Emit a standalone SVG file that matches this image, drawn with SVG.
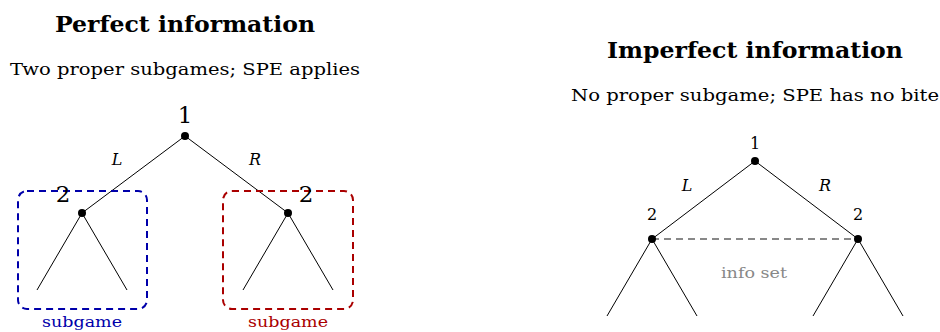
<svg xmlns="http://www.w3.org/2000/svg" width="940" height="332" viewBox="0 0 940 332">
<style>
text{font-family:"DejaVu Serif","Liberation Serif",serif;fill:#000}
.title{font-size:23px;font-weight:bold;text-anchor:middle}
.sub{font-size:16.5px;text-anchor:middle}
.pl{font-size:23px;text-anchor:middle}
.pls{font-size:16px;text-anchor:middle}
.act{font-size:16px;font-style:italic;text-anchor:middle}
.edge{stroke:#000;stroke-width:1;fill:none}
.dot{fill:#000}
.box{fill:none;stroke-width:2;stroke-dasharray:7 5}
</style>
<rect width="940" height="332" fill="#fff"/>
<text class="title" x="185" y="32" textLength="260" lengthAdjust="spacingAndGlyphs">Perfect information</text>
<text class="sub" x="185" y="75" textLength="350" lengthAdjust="spacingAndGlyphs">Two proper subgames; SPE applies</text>
<text class="title" x="755" y="58" textLength="296" lengthAdjust="spacingAndGlyphs">Imperfect information</text>
<text class="sub" x="755" y="101" textLength="368" lengthAdjust="spacingAndGlyphs">No proper subgame; SPE has no bite</text>
<g id="connectors">
<line class="edge" x1="185" y1="136" x2="82" y2="213"/>
<line class="edge" x1="185" y1="136" x2="288" y2="213"/>
<line class="edge" x1="82" y1="213" x2="37" y2="290"/>
<line class="edge" x1="82" y1="213" x2="127" y2="290"/>
<line class="edge" x1="288" y1="213" x2="243" y2="290"/>
<line class="edge" x1="288" y1="213" x2="333" y2="290"/>
<line class="edge" x1="755" y1="161" x2="652" y2="239"/>
<line class="edge" x1="755" y1="161" x2="858" y2="239"/>
<line class="edge" x1="652" y1="239" x2="607" y2="316"/>
<line class="edge" x1="652" y1="239" x2="697" y2="316"/>
<line class="edge" x1="858" y1="239" x2="813" y2="316"/>
<line class="edge" x1="858" y1="239" x2="903" y2="316"/>
<line x1="652" y1="239" x2="858" y2="239" stroke="#888" stroke-width="2" stroke-dasharray="7 5"/>
</g>
<g id="labels">
<text class="act" x="117" y="165">L</text>
<text class="act" x="255" y="165">R</text>
<text class="act" x="687" y="191">L</text>
<text class="act" x="825" y="191">R</text>
<text x="754" y="278" font-size="15.5" text-anchor="middle" textLength="66" lengthAdjust="spacingAndGlyphs" style="fill:#888">info set</text>
</g>
<g id="subgame-left">
<rect class="box" x="18" y="191" width="129" height="118" rx="9" stroke="#0000aa"/>
<text x="82" y="327" font-size="15.5" text-anchor="middle" textLength="80" lengthAdjust="spacingAndGlyphs" style="fill:#0000aa">subgame</text>
</g>
<g id="subgame-right">
<rect class="box" x="223" y="191" width="130" height="118" rx="9" stroke="#aa0000"/>
<text x="288" y="327" font-size="15.5" text-anchor="middle" textLength="80" lengthAdjust="spacingAndGlyphs" style="fill:#aa0000">subgame</text>
</g>
<g id="n-root-left"><circle class="dot" cx="185" cy="136" r="4"/><text class="pl" x="185" y="123">1</text></g>
<g id="n-left-2"><circle class="dot" cx="82" cy="213" r="4"/><text class="pl" x="63" y="202">2</text></g>
<g id="n-right-2"><circle class="dot" cx="288" cy="213" r="4"/><text class="pl" x="306" y="202">2</text></g>
<g id="n-root-right"><circle class="dot" cx="755" cy="161" r="4"/><text class="pls" x="755" y="149">1</text></g>
<g id="n-info-left"><circle class="dot" cx="652" cy="239" r="4"/><text class="pls" x="652" y="220">2</text></g>
<g id="n-info-right"><circle class="dot" cx="858" cy="239" r="4"/><text class="pls" x="858" y="220">2</text></g>
</svg>
